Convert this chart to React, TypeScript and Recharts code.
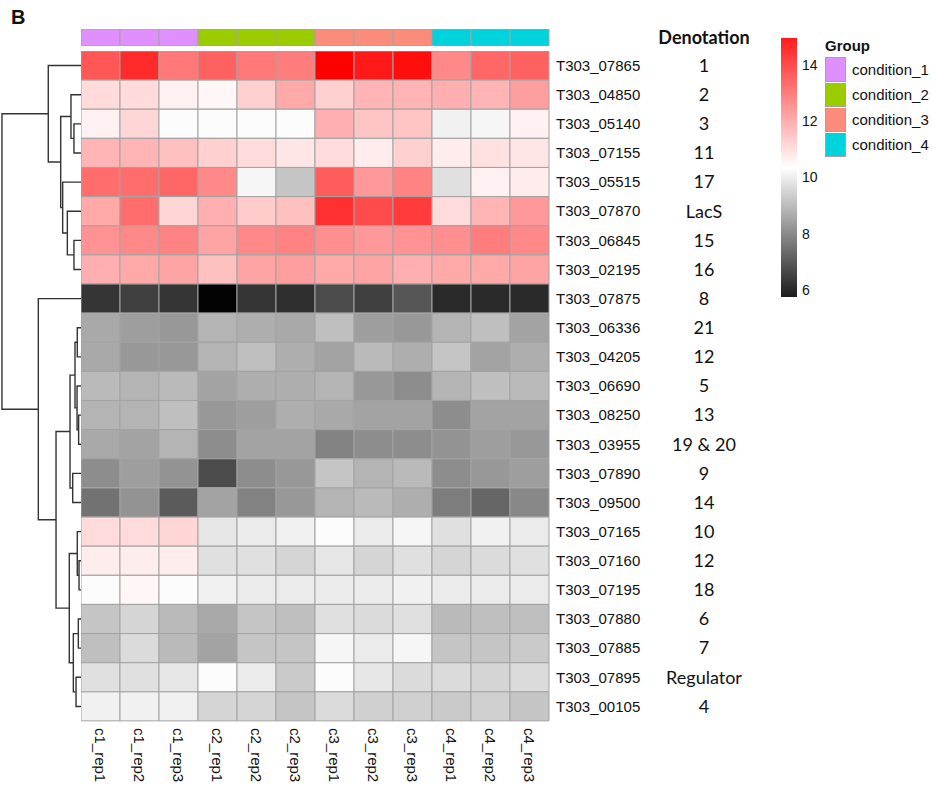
import { Bar, BarChart, Cell, Line, LineChart, XAxis, YAxis } from "recharts";

// Samples (columns) and the condition each one belongs to.
const SAMPLES = [
  "c1_rep1", "c1_rep2", "c1_rep3",
  "c2_rep1", "c2_rep2", "c2_rep3",
  "c3_rep1", "c3_rep2", "c3_rep3",
  "c4_rep1", "c4_rep2", "c4_rep3",
];
const SAMPLE_GROUP = [0, 0, 0, 1, 1, 1, 2, 2, 2, 3, 3, 3];
const GROUPS = ["condition_1", "condition_2", "condition_3", "condition_4"];
const GROUP_COLORS = ["#df90fc", "#9acc00", "#fb8b7b", "#00d3db"];

// Genes (rows) in dendrogram order and their denotation.
const GENES = [
  "T303_07865", "T303_04850", "T303_05140", "T303_07155", "T303_05515",
  "T303_07870", "T303_06845", "T303_02195", "T303_07875", "T303_06336",
  "T303_04205", "T303_06690", "T303_08250", "T303_03955", "T303_07890",
  "T303_09500", "T303_07165", "T303_07160", "T303_07195", "T303_07880",
  "T303_07885", "T303_07895", "T303_00105",
];
const DENOTATIONS = [
  "1", "2", "3", "11", "17", "LacS", "15", "16", "8", "21", "12", "5",
  "13", "19 & 20", "9", "14", "10", "12", "18", "6", "7", "Regulator", "4",
];

// log2 expression, one line per gene, columns as SAMPLES.
const EXPR = [
  [13.4, 14.2, 12.8, 13.2, 12.8, 12.7, 15.0, 14.5, 14.7, 12.5, 13.1, 13.2],
  [11.0, 11.0, 10.6, 10.5, 11.2, 11.9, 11.2, 11.7, 11.7, 11.8, 11.7, 12.1],
  [10.6, 11.1, 10.3, 10.3, 10.3, 10.3, 11.8, 11.4, 11.4, 10.1, 10.2, 10.6],
  [11.7, 11.7, 11.5, 11.2, 11.0, 10.8, 11.0, 10.7, 11.2, 10.7, 10.9, 10.8],
  [13.0, 13.0, 13.1, 12.5, 10.2, 9.3, 13.3, 12.2, 12.6, 9.8, 10.6, 10.7],
  [11.9, 13.0, 11.1, 11.8, 11.3, 11.5, 14.1, 13.6, 13.9, 11.0, 11.7, 12.2],
  [12.3, 12.5, 12.6, 12.0, 12.5, 12.6, 12.4, 12.2, 12.3, 12.4, 12.7, 12.5],
  [11.8, 11.9, 12.0, 11.5, 12.0, 12.1, 11.9, 12.0, 11.8, 11.9, 11.9, 12.0],
  [6.7, 6.9, 6.7, 5.8, 6.7, 6.6, 7.1, 6.9, 7.3, 6.5, 6.5, 6.5],
  [8.8, 8.6, 8.5, 9.0, 8.9, 8.8, 9.2, 8.6, 8.5, 9.0, 9.2, 8.7],
  [8.8, 8.5, 8.5, 9.0, 9.2, 8.9, 8.7, 9.1, 8.9, 9.3, 8.7, 8.9],
  [9.1, 9.0, 9.1, 8.7, 8.9, 8.9, 9.0, 8.5, 8.3, 9.0, 9.2, 9.1],
  [9.0, 9.0, 9.2, 8.5, 8.6, 8.9, 8.8, 8.7, 8.7, 8.3, 8.7, 8.7],
  [8.8, 8.7, 9.0, 8.3, 8.7, 8.7, 8.1, 8.3, 8.3, 8.4, 8.6, 8.5],
  [8.3, 8.6, 8.4, 7.1, 8.3, 8.5, 9.3, 9.0, 9.1, 8.3, 8.5, 8.6],
  [7.8, 8.4, 7.4, 8.7, 8.1, 8.5, 9.0, 9.1, 8.9, 8.0, 7.6, 8.2],
  [11.0, 11.0, 11.1, 9.9, 10.0, 10.1, 10.3, 10.0, 10.2, 9.8, 10.1, 10.0],
  [10.7, 10.7, 10.7, 9.8, 9.8, 9.6, 9.9, 9.6, 9.8, 9.6, 9.7, 9.8],
  [10.3, 10.5, 10.3, 10.1, 10.0, 10.0, 10.0, 10.0, 10.1, 10.0, 10.0, 10.0],
  [9.3, 9.6, 9.1, 8.8, 9.3, 9.2, 9.8, 9.7, 9.8, 9.1, 9.2, 9.2],
  [9.2, 9.7, 9.1, 8.7, 9.3, 9.3, 10.2, 10.0, 10.2, 9.3, 9.3, 9.4],
  [9.8, 9.8, 9.9, 10.3, 10.0, 9.4, 10.3, 9.9, 9.7, 9.7, 9.6, 9.7],
  [10.1, 10.1, 10.1, 9.6, 9.6, 9.3, 9.7, 9.5, 9.5, 9.4, 9.5, 9.3],
];

const SCALE_MIN = 5.75;
const SCALE_MAX = 14.96;
const LEGEND_TICKS = [6, 8, 10, 12, 14];

// Row clustering: leaves are row indexes, h is the merge height.
type Node = number | { h: number; l: Node; r: Node };
const TREE: Node = {
  h: 10,
  l: {
    h: 4.14,
    l: 0,
    r: {
      h: 2.57,
      l: { h: 1.27, l: 1, r: { h: 0.89, l: 2, r: 3 } },
      r: {
        h: 2.32,
        l: 4,
        r: { h: 1.73, l: 5, r: { h: 0.89, l: 6, r: 7 } },
      },
    },
  },
  r: {
    h: 5.4,
    l: 8,
    r: {
      h: 3.16,
      l: {
        h: 1.39,
        l: {
          h: 0.76,
          l: { h: 0.47, l: 9, r: 10 },
          r: { h: 0.5, l: 11, r: { h: 0.3, l: 12, r: 13 } },
        },
        r: { h: 1.05, l: 14, r: 15 },
      },
      r: {
        h: 1.48,
        l: { h: 0.47, l: 16, r: { h: 0.25, l: 17, r: 18 } },
        r: {
          h: 0.97,
          l: { h: 0.34, l: 19, r: 20 },
          r: { h: 0.63, l: 21, r: 22 },
        },
      },
    },
  },
};

type Pt = { x: number; y: number };

function collectSegments(node: Node, out: Pt[][]): Pt {
  if (typeof node === "number") return { x: 0, y: node + 0.5 };
  const a = collectSegments(node.l, out);
  const b = collectSegments(node.r, out);
  out.push([
    { x: a.x, y: a.y },
    { x: node.h, y: a.y },
    { x: node.h, y: b.y },
    { x: b.x, y: b.y },
  ]);
  return { x: node.h, y: (a.y + b.y) / 2 };
}

function exprColor(v: number): string {
  const t = Math.min(1, Math.max(0, (v - SCALE_MIN) / (SCALE_MAX - SCALE_MIN)));
  if (t <= 0.5) {
    const g = Math.round((t / 0.5) * 255);
    return `rgb(${g},${g},${g})`;
  }
  const k = Math.round((1 - (t - 0.5) / 0.5) * 255);
  return `rgb(255,${k},${k})`;
}

const SANS = "'Liberation Sans', Arial, sans-serif";
const CALIBRI = "Lato, 'Open Sans', sans-serif";
const GRID = "#a3a3a3";

const HEAT_W = 468;
const HEAT_H = 670;
const LABEL_W = 383;

function GeneTick(props: any) {
  const { x, y, payload, index } = props;
  const i = typeof index === "number" ? index : GENES.indexOf(payload.value);
  return (
    <g>
      <text x={x} y={y} dy="0.35em" fontSize={15} fontFamily={SANS} fill="#111">
        {payload.value}
      </text>
      <text
        x={x + 148}
        y={y}
        dy="0.35em"
        textAnchor="middle"
        fontSize={18}
        fontFamily={CALIBRI}
        fill="#111"
      >
        {DENOTATIONS[i]}
      </text>
    </g>
  );
}

function SampleTick(props: any) {
  const { x, y, payload } = props;
  return (
    <text
      x={x}
      y={y}
      dy="0.35em"
      transform={`rotate(90 ${x} ${y})`}
      fontSize={15}
      fontFamily={SANS}
      fill="#111"
    >
      {SAMPLES[Math.floor(payload.value)]}
    </text>
  );
}

function GroupTick(props: any) {
  const { x, y, payload } = props;
  return (
    <text x={x} y={y} dy="0.35em" fontSize={15} fontWeight="bold" fontFamily={SANS} fill="#111">
      {payload.value}
    </text>
  );
}

export default function App() {
  const segments: Pt[][] = [];
  collectSegments(TREE, segments);

  const heatData = GENES.map((gene) => {
    const row: Record<string, string | number> = { gene };
    SAMPLES.forEach((_, j) => (row["s" + j] = 1));
    return row;
  });
  const groupRow: Record<string, string | number> = { label: "Group" };
  SAMPLES.forEach((_, j) => (groupRow["s" + j] = 1));

  return (
    <div
      style={{
        position: "absolute",
        left: 0,
        top: 0,
        width: 932,
        height: 791,
        background: "#fff",
        fontFamily: SANS,
        color: "#111",
      }}
    >
      <div
        style={{ position: "absolute", left: 11, top: 6, fontSize: 20, fontWeight: "bold" }}
      >
        B
      </div>

      {/* row dendrogram */}
      <div style={{ position: "absolute", left: 0, top: 51 }}>
        <LineChart width={81} height={HEAT_H} margin={{ top: 0, right: 0, bottom: 0, left: 0 }}>
          <XAxis type="number" dataKey="x" domain={[0, 10.25]} reversed hide allowDataOverflow />
          <YAxis type="number" domain={[0, 23]} reversed hide allowDataOverflow />
          {segments.map((seg, i) => (
            <Line
              key={i}
              data={seg}
              dataKey="y"
              type="linear"
              stroke="#333"
              strokeWidth={1.4}
              dot={false}
              activeDot={false}
              isAnimationActive={false}
            />
          ))}
        </LineChart>
      </div>

      {/* group annotation row */}
      <div style={{ position: "absolute", left: 81, top: 29 }}>
        <BarChart
          layout="vertical"
          width={HEAT_W + LABEL_W}
          height={17}
          data={[groupRow]}
          margin={{ top: 0, right: 0, bottom: 0, left: 0 }}
          barCategoryGap={0}
          barGap={0}
        >
          <XAxis type="number" domain={[0, SAMPLES.length]} hide />
          <YAxis
            type="category"
            dataKey="label"
            orientation="right"
            width={LABEL_W}
            axisLine={false}
            tickLine={false}
            tickSize={0}
            tickMargin={6}
            tick={<GroupTick />}
          />
          {SAMPLES.map((s, j) => (
            <Bar key={s} dataKey={"s" + j} stackId="g" isAnimationActive={false}>
              <Cell fill={GROUP_COLORS[SAMPLE_GROUP[j]]} stroke={GRID} strokeWidth={1} />
            </Bar>
          ))}
        </BarChart>
      </div>

      <div
        style={{
          position: "absolute",
          left: 624,
          width: 160,
          top: 26,
          textAlign: "center",
          fontSize: 18,
          fontWeight: "bold",
          fontFamily: CALIBRI,
        }}
      >
        Denotation
      </div>

      {/* heatmap */}
      <div style={{ position: "absolute", left: 81, top: 51 }}>
        <BarChart
          layout="vertical"
          width={HEAT_W + LABEL_W}
          height={HEAT_H + 70}
          data={heatData}
          margin={{ top: 0, right: 0, bottom: 0, left: 0 }}
          barCategoryGap={0}
          barGap={0}
        >
          <XAxis
            type="number"
            domain={[0, SAMPLES.length]}
            ticks={SAMPLES.map((_, j) => j + 0.5)}
            interval={0}
            height={70}
            axisLine={false}
            tickLine={false}
            tickSize={0}
            tickMargin={7}
            tick={<SampleTick />}
          />
          <YAxis
            type="category"
            dataKey="gene"
            orientation="right"
            width={LABEL_W}
            interval={0}
            axisLine={false}
            tickLine={false}
            tickSize={0}
            tickMargin={7}
            tick={<GeneTick />}
          />
          {SAMPLES.map((s, j) => (
            <Bar key={s} dataKey={"s" + j} stackId="cells" isAnimationActive={false}>
              {GENES.map((g, i) => (
                <Cell key={g} fill={exprColor(EXPR[i][j])} stroke={GRID} strokeWidth={1} />
              ))}
            </Bar>
          ))}
        </BarChart>
      </div>

      {/* colour key */}
      <div style={{ position: "absolute", left: 781, top: 38 }}>
        <BarChart
          width={46}
          height={259}
          data={[{ name: "key", range: [SCALE_MIN, SCALE_MAX] }]}
          margin={{ top: 0, right: 0, bottom: 0, left: 0 }}
          barCategoryGap={0}
        >
          <defs>
            <linearGradient id="colorKey" x1="0" y1="1" x2="0" y2="0">
              <stop offset="0" stopColor="#1c1c1c" />
              <stop offset="0.5" stopColor="#ffffff" />
              <stop offset="1" stopColor="#ff1c1c" />
            </linearGradient>
          </defs>
          <XAxis type="category" dataKey="name" hide />
          <YAxis
            type="number"
            orientation="right"
            domain={[SCALE_MIN, SCALE_MAX]}
            ticks={LEGEND_TICKS}
            interval={0}
            width={30}
            axisLine={false}
            tickLine={false}
            tickSize={0}
            tickMargin={5}
            tick={{ fontSize: 14, fill: "#111", fontFamily: SANS }}
            allowDataOverflow
          />
          <Bar dataKey="range" fill="url(#colorKey)" isAnimationActive={false} />
        </BarChart>
      </div>

      {/* group legend */}
      <div style={{ position: "absolute", left: 825, top: 36, fontSize: 15 }}>
        <div style={{ fontWeight: "bold", height: 21, lineHeight: "20px" }}>Group</div>
        {GROUPS.map((g, i) => (
          <div key={g} style={{ display: "flex", alignItems: "center", height: 25 }}>
            <div
              style={{
                width: 19,
                height: 23,
                background: GROUP_COLORS[i],
                border: `1px solid ${GRID}`,
                borderTopWidth: i === 0 ? 1 : 0,
                boxSizing: "content-box",
              }}
            />
            <span style={{ marginLeft: 6 }}>{g}</span>
          </div>
        ))}
      </div>
    </div>
  );
}
